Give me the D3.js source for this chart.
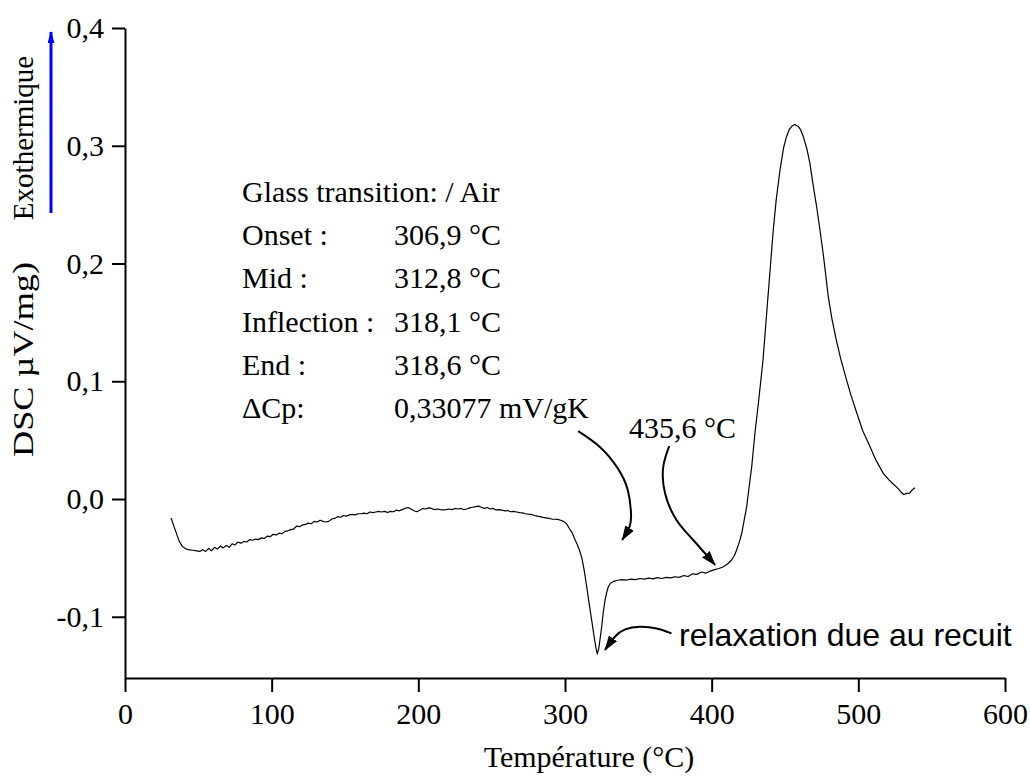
<!DOCTYPE html>
<html>
<head>
<meta charset="utf-8">
<script src="https://cdn.jsdelivr.net/npm/d3@7"></script>
<style>
  body { margin: 0; background: #fff; }
</style>
</head>
<body>
<div id="container"></div>
<script>
// DSC curve (temperature in °C, signal in µV/mg)
var temps = [31.4,33,35,37,39,41,43,46,49,51,53,55,57,59,61,63,65,67,69,71,73,75,77,79,81,83,85,87,89,91,93,95,97,99,
  101,103,105,107,109,111,113,115,117,119,121,123,125,127,129,131,133,135,137,139,141,143,145,147,149,151,153,155,157,159,
  161,163,165,167,169,171,173,175,177,179,181,183,185,187,189,191,193,195,197,199,201,203,205,207,209,211,213,215,217,219,
  221,223,225,227,229,231,233,235,237,239,241,243,245,247,249,251,253,255,257,259,261,263,265,267,269,271,273,275,277,279,
  281,283,285,287,289,291,293,295,297,299,301,303,305,307,308.5,310,311.5,313,314.8,316.5,318.2,320,321.2,322,323,324,325,326,
  327.3,328.5,329.5,331,333,336,339,342,345,348,351,354,357,360,363,366,369,372,375,378,381,384,387,390,393,396,399,402,405,
  408,411,413.6,415.5,417,419,420.5,422,423.9,425.5,427.3,429.5,432,435,437.5,440,442,444,446.6,449,451,453,455,456.8,458,459,
  460.5,462.5,465,467,469,471.6,474,476,478,479.5,482,485,488,492,495,499,503,508,512,517,521,524,527,529,531,533,535,536.5,538.6];

var dsc = [-0.016,-0.022,-0.029,-0.036,-0.040,-0.042,-0.043,-0.0435,-0.044,-0.0445,-0.043,-0.0445,-0.042,-0.044,-0.041,-0.0425,-0.040,-0.0415,-0.0395,-0.041,-0.038,-0.039,-0.0365,-0.0375,-0.036,-0.0365,-0.0345,-0.035,-0.034,-0.0345,-0.033,-0.0335,-0.0315,-0.032,
  -0.030,-0.0305,-0.029,-0.0295,-0.0275,-0.027,-0.026,-0.0255,-0.023,-0.0235,-0.022,-0.0215,-0.0205,-0.021,-0.019,-0.0195,-0.018,-0.019,-0.0195,-0.019,-0.017,-0.0165,-0.015,-0.0155,-0.014,-0.0145,-0.0135,-0.013,-0.0135,-0.0125,
  -0.0125,-0.012,-0.0125,-0.011,-0.0115,-0.011,-0.0105,-0.011,-0.0105,-0.0115,-0.0105,-0.0108,-0.0095,-0.010,-0.009,-0.008,-0.0072,-0.0085,-0.010,-0.0108,-0.0095,-0.008,-0.0085,-0.0075,-0.008,-0.009,-0.0085,-0.009,-0.0093,-0.009,
  -0.0085,-0.009,-0.008,-0.0085,-0.008,-0.009,-0.0085,-0.0075,-0.007,-0.0065,-0.006,-0.007,-0.008,-0.0072,-0.0085,-0.008,-0.0093,-0.009,-0.0095,-0.010,-0.0098,-0.0108,-0.0105,-0.011,-0.0115,-0.0118,-0.0125,-0.0128,-0.013,-0.014,
  -0.0145,-0.015,-0.0156,-0.016,-0.0165,-0.017,-0.0172,-0.0173,-0.018,-0.019,-0.021,-0.025,-0.029,-0.035,-0.039,-0.044,-0.050,-0.060,-0.0745,-0.089,-0.103,-0.118,-0.127,-0.1316,-0.127,-0.118,-0.1085,-0.097,
  -0.0858,-0.079,-0.0745,-0.0715,-0.070,-0.069,-0.0685,-0.0688,-0.068,-0.0685,-0.0675,-0.068,-0.0672,-0.0678,-0.0668,-0.0675,-0.0665,-0.067,-0.066,-0.0665,-0.065,-0.0658,-0.0635,-0.064,-0.062,-0.063,-0.0612,-0.060,-0.059,
  -0.0575,-0.055,-0.0518,-0.048,-0.0433,-0.036,-0.0291,-0.019,-0.0065,0.010,0.0274,0.0558,0.083,0.118,0.1577,0.197,0.2285,0.254,0.2794,0.298,0.3077,0.314,0.317,0.318,0.317,0.3165,
  0.314,0.3077,0.297,0.285,0.268,0.248,0.227,0.2087,0.188,0.1718,0.153,0.135,0.119,0.101,0.088,0.0728,0.058,0.0444,0.033,0.0218,0.016,0.0125,0.009,0.006,0.0038,0.0048,0.005,0.0075,0.0095];

var xTicks = [0, 100, 200, 300, 400, 500, 600],
    xMinor = [50, 150, 250, 350, 450, 550],
    yTicks = [-0.1, 0, 0.1, 0.2, 0.3, 0.4],
    yMinor = [-0.05, 0.05, 0.15, 0.25, 0.35];

var glassTitle = 'Glass transition: / Air',
    infoLabels = ['Onset :', 'Mid :', 'Inflection :', 'End :', 'ΔCp:'],
    infoValues = ['306,9 °C', '312,8 °C', '318,1 °C', '318,6 °C', '0,33077 mV/gK'];

// annotation arrows, in data units (°C, µV/mg)
var arrowGlass = [[309, 0.0577], [324, 0.044], [336, 0.026], [342.8, 0.0076], [345, -0.0119], [344, -0.0235], [339, -0.0348]],
    arrowOnset = [[371.1, 0.0450], [367, 0.0275], [368.2, 0.0048], [376, -0.0178], [387.4, -0.0348], [402.3, -0.0560]],
    arrowRelax = [[372.6, -0.1141], [362.5, -0.1099], [351, -0.1085], [341, -0.1107], [334, -0.1170], [327.3, -0.1282]];

var serif = '"Liberation Serif", "Times New Roman", serif',
    sans = '"Liberation Sans", Arial, sans-serif';

var width = 1030, height = 778;

var svg = d3.select('#container').append('svg')
    .attr('width', width)
    .attr('height', height)
    .style('font-family', serif);

svg.append('rect').attr('width', width).attr('height', height).attr('fill', '#fff');

var x = d3.scaleLinear().domain([0, 600]).range([125, 1005]),
    y = d3.scaleLinear().domain([-0.152, 0.4]).range([678, 28]);

function commaFmt(d) {
  return (d < 0 ? '-' : '') + Math.abs(d).toFixed(1).replace('.', ',');
}

// axes
var gx = svg.append('g').attr('transform', 'translate(0,' + y.range()[0] + ')');
gx.call(d3.axisBottom(x).tickValues(xMinor).tickSize(8).tickSizeOuter(0).tickFormat(''));
gx.call(d3.axisBottom(x).tickValues(xTicks).tickSize(14).tickSizeOuter(0).tickPadding(11).tickFormat(d3.format('d')));

var gy = svg.append('g').attr('transform', 'translate(' + x.range()[0] + ',0)');
gy.call(d3.axisLeft(y).tickValues(yMinor).tickSize(7).tickSizeOuter(0).tickFormat(''));
gy.call(d3.axisLeft(y).tickValues(yTicks).tickSize(13).tickSizeOuter(0).tickPadding(8).tickFormat(commaFmt));

svg.selectAll('.domain').attr('stroke', '#000').attr('stroke-width', 2);
svg.selectAll('.tick line').attr('stroke', '#000').attr('stroke-width', 2);
svg.selectAll('.tick text')
    .attr('font-family', serif)
    .attr('font-size', 30)
    .attr('fill', '#000');

// axis titles
svg.append('text')
    .attr('x', 589).attr('y', 767)
    .attr('text-anchor', 'middle')
    .attr('font-size', 30)
    .text('Température (°C)');

svg.append('text')
    .attr('transform', 'translate(33,359.5) rotate(-90)')
    .attr('text-anchor', 'middle')
    .attr('font-size', 30)
    .attr('textLength', 195)
    .attr('lengthAdjust', 'spacingAndGlyphs')
    .text('DSC µV/mg)');

svg.append('text')
    .attr('transform', 'translate(33,138) rotate(-90)')
    .attr('text-anchor', 'middle')
    .attr('font-size', 29)
    .text('Exothermique');

// arrow heads
var defs = svg.append('defs');
defs.append('marker')
    .attr('id', 'blueHead')
    .attr('viewBox', '0 0 12 7')
    .attr('refX', 11).attr('refY', 3.5)
    .attr('markerWidth', 12).attr('markerHeight', 7)
    .attr('markerUnits', 'userSpaceOnUse')
    .attr('orient', 'auto')
  .append('path').attr('d', 'M0,0 L12,3.5 L0,7 Z').attr('fill', '#0000ff');

defs.append('marker')
    .attr('id', 'blackHead')
    .attr('viewBox', '0 0 15 10')
    .attr('refX', 14).attr('refY', 5)
    .attr('markerWidth', 15).attr('markerHeight', 10)
    .attr('markerUnits', 'userSpaceOnUse')
    .attr('orient', 'auto')
  .append('path').attr('d', 'M0,0 L15,5 L0,10 Z').attr('fill', '#000');

// blue "exothermic" arrow
svg.append('line')
    .attr('x1', 51).attr('y1', 213)
    .attr('x2', 51).attr('y2', 32)
    .attr('stroke', '#0000ff')
    .attr('stroke-width', 3)
    .attr('marker-end', 'url(#blueHead)');

// the curve
var curveData = temps.map(function(t, i) { return [t, dsc[i]]; });
var line = d3.line()
    .x(function(d) { return x(d[0]); })
    .y(function(d) { return y(d[1]); });

svg.append('path')
    .datum(curveData)
    .attr('d', line)
    .attr('fill', 'none')
    .attr('stroke', '#000')
    .attr('stroke-width', 1.2)
    .attr('stroke-linejoin', 'round');

// curved annotation arrows
var arrowLine = d3.line()
    .x(function(d) { return x(d[0]); })
    .y(function(d) { return y(d[1]); })
    .curve(d3.curveNatural);

[arrowGlass, arrowOnset, arrowRelax].forEach(function(pts) {
  svg.append('path')
      .datum(pts)
      .attr('d', arrowLine)
      .attr('fill', 'none')
      .attr('stroke', '#000')
      .attr('stroke-width', 2)
      .attr('marker-end', 'url(#blackHead)');
});

// glass transition text block
var info = svg.append('g').attr('font-size', 30);
info.append('text')
    .attr('x', 242).attr('y', 202)
    .text(glassTitle);

infoLabels.forEach(function(lbl, i) {
  var yy = 245 + i * 43.3;
  info.append('text').attr('x', 242).attr('y', yy).text(lbl);
  info.append('text').attr('x', 394).attr('y', yy).text(infoValues[i]);
});

svg.append('text')
    .attr('x', 629).attr('y', 438)
    .attr('font-size', 30)
    .text('435,6 °C');

svg.append('text')
    .attr('x', 679).attr('y', 646)
    .style('font-family', sans)
    .attr('font-size', 32)
    .text('relaxation due au recuit');
</script>
</body>
</html>
